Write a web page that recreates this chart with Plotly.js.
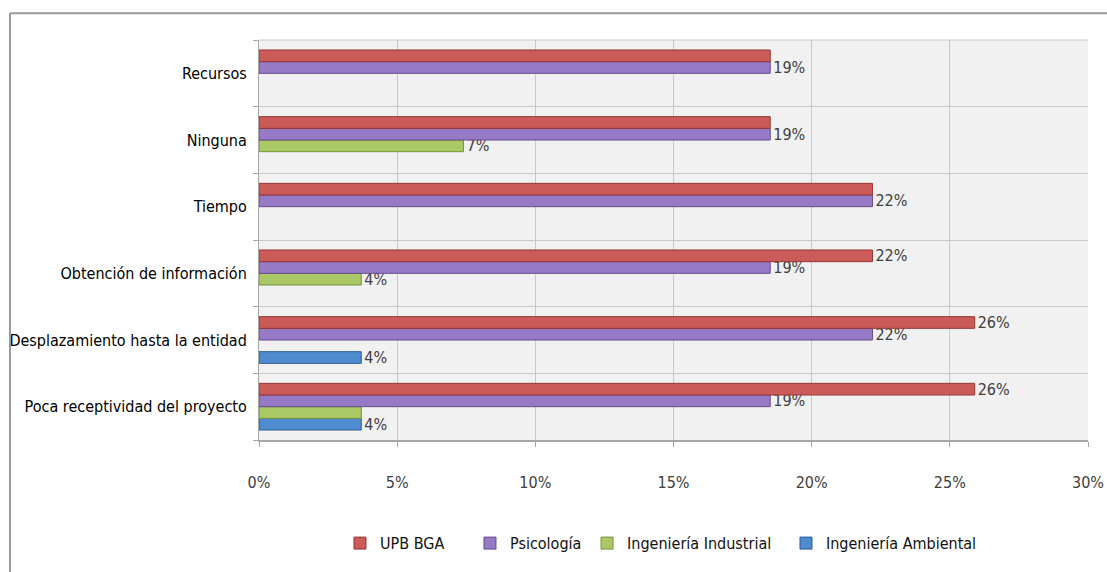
<!DOCTYPE html>
<html>
<head>
<meta charset="utf-8">
<script src="https://cdn.plot.ly/plotly-3.0.1.min.js"></script>
<style>
html,body{margin:0;padding:0;background:#fff;}
#chart{width:1107px;height:572px;}
</style>
</head>
<body>
<div id="chart"></div>
<script>
// Categories (bottom to top as drawn)
const categories = [
  "Poca receptividad del proyecto",
  "Desplazamiento hasta la entidad",
  "Obtención de información",
  "Tiempo",
  "Ninguna",
  "Recursos"
];
const seriesNames = ["UPB BGA", "Psicología", "Ingeniería Industrial", "Ingeniería Ambiental"];
const upbBga = [25.9, 25.9, 22.2, 22.2, 18.5, 18.5];
const psicologia = [18.5, 22.2, 18.5, 22.2, 18.5, 18.5];
const ingIndustrial = [3.7, null, 3.7, null, 7.4, null];
const ingAmbiental = [3.7, 3.7, null, null, null, null];
const xTickVals = [0, 5, 10, 15, 20, 25, 30];
const xTickText = ["0%", "5%", "10%", "15%", "20%", "25%", "30%"];

const font = "DejaVu Sans Condensed, DejaVu Sans, sans-serif";
const colors = ["#CB5B58", "#977AC6", "#AAC865", "#4F8CCF"];
const lines = ["#963634", "#664D8F", "#76943A", "#2E5C96"];
const values = [upbBga, psicologia, ingIndustrial, ingAmbiental];
const legendNames = ["legend", "legend2", "legend3", "legend4"];
const legendX = [0.0977, 0.2545, 0.3957, 0.6357];

// Labels: where the next series (drawn just below) has the same value,
// the reference shows only one label, so the upper one is left blank.
function labelsFor(i) {
  return values[i].map((v, k) => {
    if (v == null) return "";
    const next = values[i + 1];
    if (next && next[k] === v) return "";
    return Math.round(v) + "%";
  });
}

// Plotly draws the first grouped trace lowest, so add in reverse order
const traces = [];
for (let i = 3; i >= 0; i--) {
  traces.push({
    type: "bar",
    orientation: "h",
    name: seriesNames[i],
    y: categories,
    x: values[i],
    marker: {color: colors[i], line: {color: lines[i], width: 1}},
    text: labelsFor(i),
    textposition: "outside",
    constraintext: "none",
    cliponaxis: false,
    outsidetextfont: {family: font, size: 16, color: "#404040"},
    legend: legendNames[i],
    hoverinfo: "skip"
  });
}

function legendSpec(x) {
  return {
    orientation: "h",
    x: x, xanchor: "left",
    y: -0.258, yanchor: "middle",
    font: {family: font, size: 16, color: "#111"},
    itemwidth: 30,
    bgcolor: "rgba(0,0,0,0)"
  };
}

const layout = {
  width: 1107,
  height: 572,
  margin: {l: 259, r: 19, t: 40, b: 129},
  paper_bgcolor: "#ffffff",
  plot_bgcolor: "#F1F1F1",
  barmode: "group",
  bargap: 0.3,
  bargroupgap: 0,
  showlegend: true,
  legend: legendSpec(legendX[0]),
  legend2: legendSpec(legendX[1]),
  legend3: legendSpec(legendX[2]),
  legend4: legendSpec(legendX[3]),
  xaxis: {
    range: [0, 30],
    tickvals: xTickVals,
    ticktext: xTickText,
    showgrid: true,
    gridcolor: "#C8C8C8",
    gridwidth: 1,
    zeroline: false,
    showline: true,
    linecolor: "#A6A6A6",
    linewidth: 2,
    ticks: "outside",
    ticklen: 5,
    tickcolor: "#A6A6A6",
    ticklabelstandoff: 22,
    tickfont: {family: font, size: 16, color: "#404040"},
    fixedrange: true
  },
  yaxis: {
    type: "category",
    categoryorder: "array",
    categoryarray: categories,
    tickson: "boundaries",
    showgrid: true,
    gridcolor: "#C8C8C8",
    gridwidth: 1,
    showline: true,
    linecolor: "#A6A6A6",
    ticks: "outside",
    ticklen: 5,
    tickcolor: "#A6A6A6",
    ticklabelstandoff: 8,
    tickfont: {family: font, size: 16, color: "#000"},
    fixedrange: true
  },
  shapes: [
    {type: "line", xref: "paper", yref: "paper",
     x0: 0, x1: 1, y0: 1, y1: 1,
     line: {color: "#C8C8C8", width: 1}},
    {type: "line", xref: "paper", yref: "paper",
     x0: (10 - 259) / 829, x1: 1.03, y0: (443 - 13) / 403, y1: (443 - 13) / 403,
     line: {color: "#9A9A9A", width: 2}},
    {type: "line", xref: "paper", yref: "paper",
     x0: (10 - 259) / 829, x1: (10 - 259) / 829, y0: (443 - 13) / 403, y1: -0.4,
     line: {color: "#9A9A9A", width: 2}}
  ]
};

Plotly.newPlot("chart", traces, layout, {displayModeBar: false, staticPlot: true});
</script>
</body>
</html>
